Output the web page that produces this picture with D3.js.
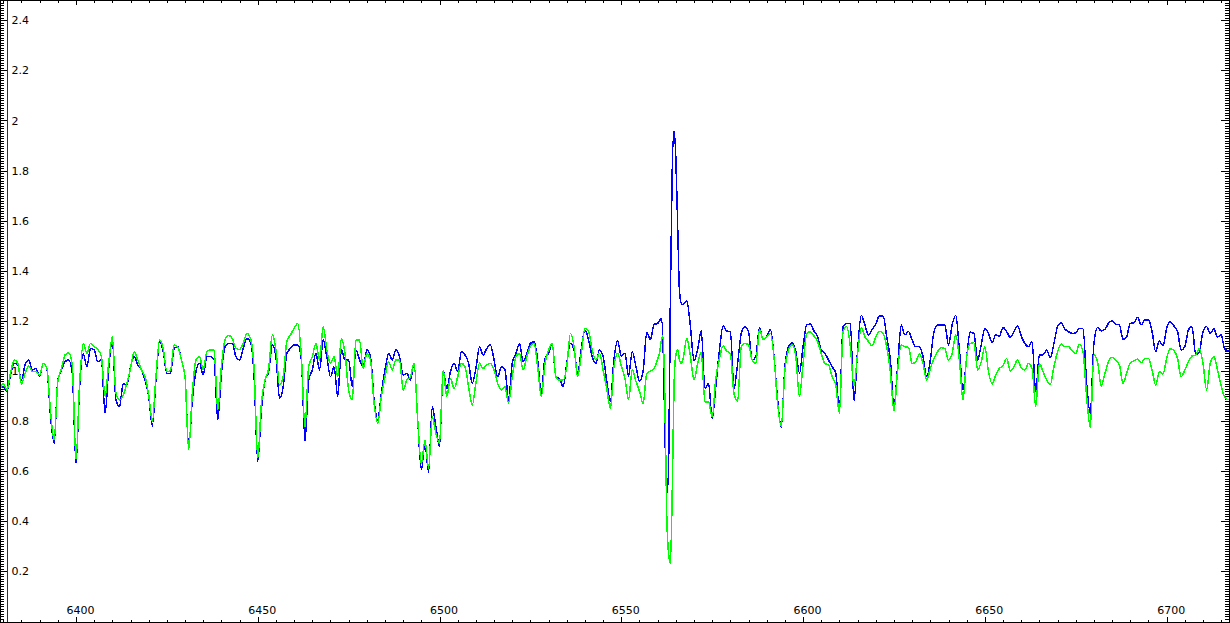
<!DOCTYPE html>
<html>
<head>
<meta charset="utf-8">
<script src="https://cdn.jsdelivr.net/npm/d3@7"></script>
<style>
  body { margin: 0; background: #fff; }
  svg { display: block; font-family: "DejaVu Sans", sans-serif; }
</style>
</head>
<body>
<svg width="1230" height="623"></svg>
<script>
// wavelength samples (Angstrom)
const wave = [
  6379, 6380, 6381, 6382, 6383, 6384, 6385, 6386, 6387, 6388,
  6389, 6390, 6391, 6392, 6393, 6394, 6395, 6396, 6397, 6398,
  6399, 6400, 6401, 6402, 6403, 6404, 6405, 6406, 6407, 6408,
  6409, 6410, 6411, 6412, 6413, 6414, 6415, 6416, 6417, 6418,
  6419, 6420, 6421, 6422, 6423, 6424, 6425, 6426, 6427, 6428,
  6429, 6430, 6431, 6432, 6433, 6434, 6435, 6436, 6437, 6438,
  6439, 6440, 6441, 6442, 6443, 6444, 6445, 6446, 6447, 6448,
  6449, 6450, 6451, 6452, 6453, 6454, 6455, 6456, 6457, 6458,
  6459, 6460, 6461, 6462, 6463, 6464, 6465, 6466, 6467, 6468,
  6469, 6470, 6471, 6472, 6473, 6474, 6475, 6476, 6477, 6478,
  6479, 6480, 6481, 6482, 6483, 6484, 6485, 6486, 6487, 6488,
  6489, 6490, 6491, 6492, 6493, 6494, 6495, 6496, 6497, 6498,
  6499, 6500, 6501, 6502, 6503, 6504, 6505, 6506, 6507, 6508,
  6509, 6510, 6511, 6512, 6513, 6514, 6515, 6516, 6517, 6518,
  6519, 6520, 6521, 6522, 6523, 6524, 6525, 6526, 6527, 6528,
  6529, 6530, 6531, 6532, 6533, 6534, 6535, 6536, 6537, 6538,
  6539, 6540, 6541, 6542, 6543, 6544, 6545, 6546, 6547, 6548,
  6549, 6550, 6551, 6552, 6553, 6554, 6555, 6556, 6557, 6558,
  6559, 6560, 6560.5, 6561, 6561.5, 6562, 6562.5, 6563, 6563.5,
  6564, 6564.5, 6565, 6565.5, 6566, 6566.5, 6567,
  6568, 6569, 6570, 6571, 6572, 6573, 6574, 6575, 6576, 6577,
  6578, 6579, 6580, 6581, 6582, 6583, 6584, 6585, 6586, 6587,
  6588, 6589, 6590, 6591, 6592, 6593, 6594, 6595, 6596, 6597,
  6598, 6599, 6600, 6601, 6602, 6603, 6604, 6605, 6606, 6607,
  6608, 6609, 6610, 6611, 6612, 6613, 6614, 6615, 6616, 6617,
  6618, 6619, 6620, 6621, 6622, 6623, 6624, 6625, 6626, 6627,
  6628, 6629, 6630, 6631, 6632, 6633, 6634, 6635, 6636, 6637,
  6638, 6639, 6640, 6641, 6642, 6643, 6644, 6645, 6646, 6647,
  6648, 6649, 6650, 6651, 6652, 6653, 6654, 6655, 6656, 6657,
  6658, 6659, 6660, 6661, 6662, 6663, 6664, 6665, 6666, 6667,
  6668, 6669, 6670, 6671, 6672, 6673, 6674, 6675, 6676, 6677,
  6678, 6679, 6680, 6681, 6682, 6683, 6684, 6685, 6686, 6687,
  6688, 6689, 6690, 6691, 6692, 6693, 6694, 6695, 6696, 6697,
  6698, 6699, 6700, 6701, 6702, 6703, 6704, 6705, 6706, 6707,
  6708, 6709, 6710, 6711, 6712, 6713, 6714, 6715, 6716, 6717
]

// blue spectrum (normalised flux)
const blueFlux = [
  0.93, 0.937, 0.917, 0.984, 1.031, 1.024, 0.964, 1.024, 1.044, 1.004,
  1.01, 0.977, 1.031, 1.01, 0.818, 0.711, 0.964, 1.004, 1.037, 1.044,
  0.99, 0.63, 0.937, 1.07, 1.017, 1.09, 1.084, 1.037, 1.044, 0.831,
  1.01, 1.124, 0.884, 0.858, 0.951, 0.944, 1.017, 1.057, 1.024, 1.004,
  0.964, 0.898, 0.78, 0.964, 1.117, 1.077, 0.991, 0.991, 1.09, 1.097,
  1.044, 0.977, 0.691, 0.884, 0.997, 1.031, 0.984, 1.057, 1.057, 1.044,
  0.804, 0.991, 1.097, 1.11, 1.11, 1.057, 1.044, 1.09, 1.13, 1.117,
  0.977, 0.638, 0.844, 0.964, 0.997, 1.104, 1.057, 0.891, 0.937, 1.07,
  1.09, 1.104, 1.104, 1.044, 0.718, 0.964, 1.004, 1.07, 1.004, 1.124,
  1.057, 0.977, 1.017, 0.898, 1.084, 1.044, 1.044, 0.937, 1.084, 1.044,
  1.017, 1.084, 1.057, 0.884, 0.804, 0.911, 1.004, 1.07, 1.044, 1.084,
  1.057, 0.984, 0.991, 0.964, 1.031, 0.804, 0.605, 0.711, 0.595, 0.858,
  0.778, 0.698, 1.004, 0.93, 0.997, 1.031, 0.997, 1.077, 1.064, 1.031,
  0.951, 1.01, 1.097, 1.064, 1.09, 1.104, 1.044, 0.977, 1.017, 1.004,
  0.884, 1.03, 1.07, 1.11, 1.037, 1.07, 1.11, 1.117, 1.044, 0.911,
  1.05, 1.07, 1.11, 0.977, 0.97, 0.937, 1.03, 1.11, 1.084, 0.991,
  1.09, 1.164, 1.124, 1.057, 1.03, 1.084, 1.057, 0.96, 0.88, 1.05,
  1.12, 1.06, 1.07, 0.98, 1.077, 1.02, 0.96, 1.0, 1.155, 1.125,
  1.186, 1.19, 1.2, 1.21, 1.10, 0.75, 0.51, 0.60, 1.30,
  1.80, 1.96, 1.85, 1.58, 1.32, 1.27, 1.265,
  1.28, 1.18, 1.04, 1.087, 1.16, 0.93, 0.95, 0.81, 0.94, 1.084,
  1.18, 1.16, 1.157, 0.93, 1.03, 1.15, 1.177, 1.157, 1.044, 1.057,
  1.174, 1.126, 1.137, 1.166, 1.057, 0.884, 0.775, 1.017, 1.097, 1.113,
  1.077, 0.991, 1.097, 1.184, 1.187, 1.16, 1.137, 1.084, 1.07, 1.044,
  1.017, 0.991, 0.84, 1.177, 1.19, 1.19, 0.88, 1.084, 1.223, 1.184,
  1.144, 1.166, 1.187, 1.22, 1.22, 1.137, 1.044, 0.86, 1.017, 1.184,
  1.144, 1.157, 1.124, 1.097, 1.097, 1.057, 0.977, 1.044, 1.157, 1.184,
  1.184, 1.184, 1.104, 1.184, 1.223, 1.084, 0.924, 1.057, 1.155, 1.15,
  1.044, 1.104, 1.17, 1.15, 1.114, 1.144, 1.14, 1.174, 1.157, 1.134,
  1.157, 1.18, 1.14, 1.11, 1.097, 1.117, 0.917, 1.064, 1.064, 1.084,
  1.053, 1.11, 1.177, 1.193, 1.168, 1.157, 1.15, 1.153, 1.17, 1.17,
  0.951, 0.83, 1.11, 1.173, 1.16, 1.166, 1.19, 1.2, 1.186, 1.184,
  1.126, 1.137, 1.19, 1.193, 1.214, 1.184, 1.204, 1.204, 1.157, 1.077,
  1.12, 1.1, 1.17, 1.197, 1.18, 1.157, 1.084, 1.097, 1.164, 1.177,
  1.064, 1.077, 1.157, 1.177, 1.15, 1.168, 1.136, 1.144, 1.087, 1.08
]

// green spectrum (normalised flux)
const greenFlux = [
  0.92, 0.951, 0.924, 0.991, 1.044, 1.031, 0.948, 0.991, 1.02, 0.997,
  0.997, 0.984, 1.031, 1.01, 0.838, 0.724, 0.957, 1.01, 1.064, 1.073,
  1.02, 0.645, 0.951, 1.11, 1.07, 1.11, 1.097, 1.086, 1.057, 0.898,
  1.031, 1.137, 0.911, 0.884, 0.904, 0.951, 1.01, 1.077, 1.044, 1.004,
  0.977, 0.904, 0.80, 0.977, 1.124, 1.09, 0.997, 1.004, 1.104, 1.097,
  1.044, 0.977, 0.685, 0.911, 1.044, 1.057, 1.004, 1.077, 1.084, 1.084,
  0.844, 1.017, 1.124, 1.142, 1.13, 1.09, 1.086, 1.11, 1.15, 1.13,
  1.004, 0.652, 0.871, 0.964, 1.01, 1.144, 1.084, 0.944, 0.977, 1.117,
  1.144, 1.17, 1.19, 1.057, 0.775, 1.017, 1.057, 1.11, 1.044, 1.177,
  1.084, 1.031, 1.057, 0.977, 1.13, 1.07, 0.924, 0.884, 1.124, 1.124,
  1.01, 1.07, 1.044, 0.871, 0.791, 0.898, 0.977, 1.037, 1.004, 1.044,
  1.044, 0.924, 0.964, 0.977, 1.031, 0.804, 0.63, 0.724, 0.61, 0.818,
  0.751, 0.711, 1.004, 0.898, 0.971, 0.93, 0.977, 1.031, 1.017, 0.937,
  0.864, 0.951, 1.031, 1.01, 1.025, 1.03, 1.004, 0.95, 0.924, 0.937,
  0.871, 0.977, 1.057, 1.07, 1.004, 1.057, 1.097, 1.11, 1.017, 0.897,
  1.03, 1.084, 1.11, 0.977, 0.964, 0.964, 1.017, 1.15, 1.097, 0.977,
  1.07, 1.17, 1.157, 1.084, 1.044, 1.07, 1.004, 0.93, 0.85, 1.02,
  1.07, 1.02, 0.97, 0.885, 1.005, 0.96, 0.92, 0.87, 0.99, 1.0,
  1.01, 1.047, 1.07, 1.12, 1.14, 0.88, 0.42, 0.272, 0.232,
  0.51, 0.94, 1.064, 1.084, 1.044, 1.03, 1.05,
  1.13, 1.06, 0.964, 1.03, 1.073, 0.877, 0.877, 0.817, 0.97, 1.05,
  1.10, 1.08, 1.07, 0.91, 0.88, 1.097, 1.11, 1.104, 1.044, 1.03,
  1.166, 1.126, 1.137, 1.15, 1.057, 0.87, 0.78, 1.004, 1.084, 1.106,
  1.057, 0.897, 1.03, 1.15, 1.157, 1.14, 1.117, 1.07, 1.03, 1.024,
  0.977, 0.944, 0.83, 1.157, 1.177, 1.097, 0.94, 1.07, 1.174, 1.137,
  1.117, 1.1, 1.137, 1.158, 1.15, 1.097, 0.997, 0.84, 1.004, 1.104,
  1.097, 1.094, 1.03, 1.037, 1.068, 1.03, 0.964, 1.01, 1.05, 1.077,
  1.093, 1.09, 1.044, 1.07, 1.144, 1.044, 0.884, 1.057, 1.11, 1.113,
  1.004, 1.037, 1.097, 0.997, 0.948, 0.984, 1.01, 1.022, 1.05, 1.0,
  1.017, 1.044, 1.012, 1.004, 1.03, 1.01, 0.858, 1.03, 0.997, 0.964,
  0.947, 1.017, 1.077, 1.108, 1.097, 1.097, 1.081, 1.07, 1.106, 1.077,
  0.897, 0.775, 1.064, 1.037, 0.94, 0.988, 1.037, 1.054, 1.044, 1.024,
  0.951, 0.991, 1.033, 1.04, 1.047, 1.033, 1.05, 1.05, 1.004, 0.944,
  0.998, 0.988, 1.05, 1.089, 1.081, 1.05, 0.977, 1.004, 1.037, 1.06,
  1.064, 1.089, 1.03, 0.924, 1.03, 1.057, 1.004, 0.94, 0.895, 0.884
]

const yTickLabels = [0.2, 0.4, 0.6, 0.8, 1, 1.2, 1.4, 1.6, 1.8, 2, 2.2, 2.4]
const xTickLabels = [6400, 6450, 6500, 6550, 6600, 6650, 6700]
const markerWave = 6381.1   // the dark red cursor line near the left edge

if (wave.length !== blueFlux.length || wave.length !== greenFlux.length) {
  console.log("length mismatch", wave.length, blueFlux.length, greenFlux.length)
}

const width = 1230
const height = 623
const bottom = 622

const svg = d3.select("svg")

const x = d3.scaleLinear().domain([6379.1, 6717.43]).range([0, width])
const y = d3.scaleLinear().domain([0, 2.481]).range([621.5, 0])

// minor tick positions
const xMinor = d3.range(6380, 6720, 5)
const yMinor = d3.range(1, 249).map(i => i / 100)

svg.append("clipPath").attr("id", "plot")
  .append("rect").attr("x", 0).attr("y", 0).attr("width", width).attr("height", bottom)

function addAxis(axis, tx, ty, labels) {
  const g = svg.append("g")
    .attr("transform", `translate(${tx},${ty})`)
    .call(axis)
  g.select(".domain").remove()
  g.selectAll(".tick line").attr("stroke", "#000").attr("shape-rendering", "crispEdges")
  g.selectAll("text")
    .attr("fill", "#000")
    .style("font-size", "11px")
    .style("font-family", "'DejaVu Sans', sans-serif")
  if (!labels) g.selectAll("text").remove()
  return g
}

// left side
addAxis(d3.axisRight(y).tickValues(yMinor).tickSize(4).tickFormat(""), 0, 0, false)
addAxis(d3.axisRight(y).tickValues(yTickLabels).tickSize(7).tickPadding(4.5).tickFormat(d => String(d)), 0, 0, true)
// right side
addAxis(d3.axisLeft(y).tickValues(yMinor).tickSize(4).tickFormat(""), width - 1, 0, false)
addAxis(d3.axisLeft(y).tickValues(yTickLabels).tickSize(8).tickFormat(""), width - 1, 0, false)
// top side
addAxis(d3.axisBottom(x).tickValues(xMinor).tickSize(3).tickFormat(""), 0, 0, false)
addAxis(d3.axisBottom(x).tickValues(xTickLabels).tickSize(5).tickFormat(""), 0, 0, false)
// bottom side
addAxis(d3.axisTop(x).tickValues(xMinor).tickSize(2).tickFormat(""), 0, bottom, false)
const xAxis = addAxis(d3.axisTop(x).tickValues(xTickLabels).tickSize(5).tickPadding(3.5).tickFormat(d => String(d)), 0, bottom, true)
xAxis.selectAll("text").attr("dx", 4)

// cursor marker
svg.append("line")
  .attr("x1", Math.round(x(markerWave)) + 0.5)
  .attr("x2", Math.round(x(markerWave)) + 0.5)
  .attr("y1", 0)
  .attr("y2", bottom)
  .attr("stroke", "#a00000")
  .attr("stroke-width", 1)
  .attr("shape-rendering", "crispEdges")

// smooth the 1 A samples a little so the profile reads like the original trace
const line = d3.line()
  .x((d, i) => x(wave[i]))
  .y(d => y(d))
  .curve(d3.curveMonotoneX)

const plot = svg.append("g").attr("clip-path", "url(#plot)")

plot.append("path")
  .datum(blueFlux)
  .attr("d", line)
  .attr("fill", "none")
  .attr("stroke", "#0000ff")
  .attr("stroke-width", 1.5)
  .attr("shape-rendering", "crispEdges")

plot.append("path")
  .datum(greenFlux)
  .attr("d", line)
  .attr("fill", "none")
  .attr("stroke", "#00ff00")
  .attr("stroke-width", 1.5)
  .attr("shape-rendering", "crispEdges")

// frame
svg.append("rect")
  .attr("x", 0.5)
  .attr("y", 0.5)
  .attr("width", width - 1)
  .attr("height", bottom - 0.5)
  .attr("fill", "none")
  .attr("stroke", "#000")
  .attr("stroke-width", 1)
  .attr("shape-rendering", "crispEdges")
</script>
</body>
</html>
